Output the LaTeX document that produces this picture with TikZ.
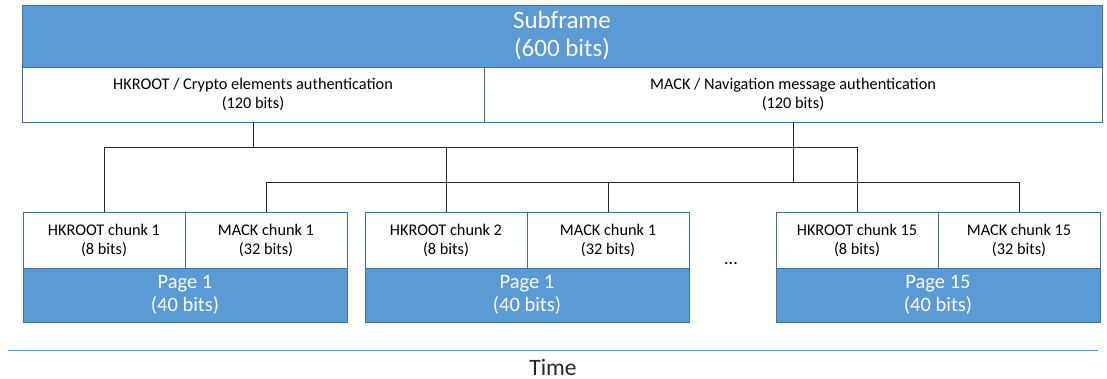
\documentclass[tikz,border=0pt]{standalone}
\usepackage{fontspec}
\setmainfont{Carlito}
\definecolor{officeblue}{HTML}{5B9BD5}
\definecolor{edgeblue}{HTML}{41719C}

\begin{document}
\begin{tikzpicture}[
x=1pt, y=-1pt,
bluebox/.style={rectangle, draw=edgeblue, fill=officeblue, text=white, line width=0.8pt, align=center, inner sep=0pt},
whitebox/.style={rectangle, draw=edgeblue, fill=white, text=black, line width=0.8pt, align=center, inner sep=0pt, font=\fontsize{16.3}{19}\selectfont},
chunkbox/.style={whitebox, minimum width=162pt, minimum height=56pt},
pagebox/.style={bluebox, minimum width=324pt, minimum height=54pt, font=\fontsize{20.5}{22.5}\selectfont},
link/.style={draw=black!85, line width=1pt},
]
\useasboundingbox (0,0) rectangle (1107,379);

%Nodes
\node[bluebox, minimum width=1080pt, minimum height=62pt, font=\fontsize{25}{28}\selectfont] (subframe) at (562,36) {Subframe\\(600 bits)};
\node[whitebox, minimum width=462pt, minimum height=55pt] (hkroot) at (253,94.5) {HKROOT / Crypto elements authentication\\(120 bits)};
\node[whitebox, minimum width=618pt, minimum height=55pt] (mack) at (793,94.5) {MACK / Navigation message authentication\\(120 bits)};

\node[chunkbox] (hk_1) at (104,240) {HKROOT chunk 1\\(8 bits)};
\node[chunkbox] (mack_1) at (266,240) {MACK chunk 1\\(32 bits)};
\node[pagebox] (page_1) at (185,295) {Page 1\\(40 bits)};

\node[chunkbox] (hk_2) at (446,240) {HKROOT chunk 2\\(8 bits)};
\node[chunkbox] (mack_2) at (608,240) {MACK chunk 1\\(32 bits)};
\node[pagebox] (page_2) at (527,295) {Page 1\\(40 bits)};

\node[font=\fontsize{18}{22}\selectfont] (dots) at (731,264) {...};

\node[chunkbox] (hk_15) at (857,240) {HKROOT chunk 15\\(8 bits)};
\node[chunkbox] (mack_15) at (1019,240) {MACK chunk 15\\(32 bits)};
\node[pagebox] (page_15) at (938,295) {Page 15\\(40 bits)};

\coordinate (time_start) at (8,350);
\coordinate (time_end) at (1098,350);
\node[font=\fontsize{23.5}{26}\selectfont, text=black!85, inner sep=0pt] (time) at (553,367.5) {Time};

%Lines
\draw[link] (hkroot.south) -- ++(0,25) -| (hk_1.north);
\draw[link] (hkroot.south) -- ++(0,25) -| (hk_2.north);
\draw[link] (hkroot.south) -- ++(0,25) -| (hk_15.north);
\draw[link] (mack.south) -- ++(0,60) -| (mack_1.north);
\draw[link] (mack.south) -- ++(0,60) -| (mack_2.north);
\draw[link] (mack.south) -- ++(0,60) -| (mack_15.north);
\draw[officeblue, line width=1pt] (time_start) -- (time_end);

\end{tikzpicture}
\end{document}
